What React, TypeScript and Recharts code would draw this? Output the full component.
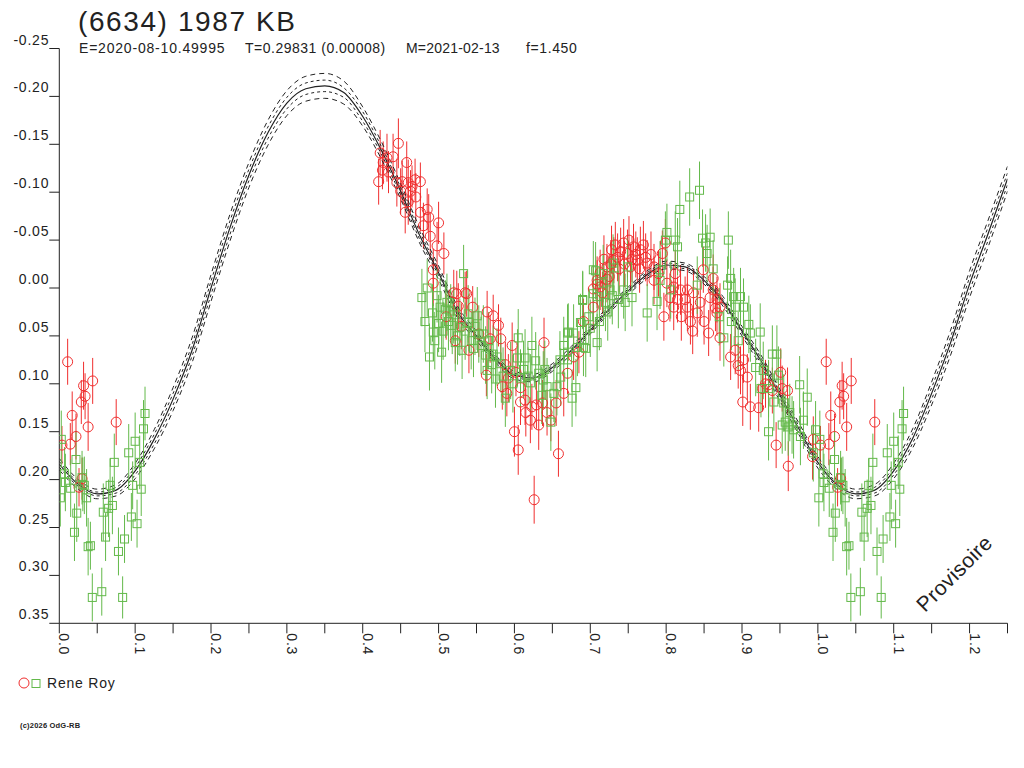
import React from 'react';
import { ComposedChart, Line, Scatter, XAxis, YAxis, ErrorBar } from 'recharts';

const RED = '#f02e2e';
const GREEN = '#63b94a';
const INK = '#222222';
const FONT = '"Liberation Sans", Arial, sans-serif';

const xTicks = [
  0, 0.05, 0.1, 0.15, 0.2, 0.25, 0.3, 0.35, 0.4, 0.45, 0.5, 0.55, 0.6,
  0.65, 0.7, 0.75, 0.8, 0.85, 0.9, 0.95, 1.0, 1.05, 1.1, 1.15, 1.2, 1.25,
];
const yTicks = [-0.25, -0.2, -0.15, -0.1, -0.05, 0, 0.05, 0.1, 0.15, 0.2, 0.25, 0.3, 0.35];

// fitted light curve, every 0.025 in phase
const curvePhase = [
  0, 0.025, 0.05, 0.075, 0.1, 0.125, 0.15, 0.175, 0.2, 0.225, 0.25, 0.275, 0.3,
  0.325, 0.35, 0.375, 0.4, 0.425, 0.45, 0.475, 0.5, 0.525, 0.55, 0.575, 0.6,
  0.625, 0.65, 0.675, 0.7, 0.725, 0.75, 0.775, 0.8, 0.825, 0.85, 0.875, 0.9,
  0.925, 0.95, 0.975, 1.0, 1.025, 1.05, 1.075, 1.1, 1.125, 1.15, 1.175, 1.2,
  1.225, 1.25,
];
const curveMid = [
  0.184, 0.205, 0.215, 0.211, 0.191, 0.158, 0.116, 0.065, 0.0, -0.063, -0.118,
  -0.162, -0.193, -0.208, -0.211, -0.204, -0.179, -0.143, -0.101, -0.055,
  -0.016, 0.025, 0.05, 0.074, 0.091, 0.094, 0.083, 0.065, 0.044, 0.022, 0.003,
  -0.014, -0.024, -0.022, -0.008, 0.014, 0.045, 0.076, 0.112, 0.147, 0.182,
  0.205, 0.215, 0.211, 0.191, 0.157, 0.11, 0.057, -0.004, -0.058, -0.114,
];
// half-widths of the dashed envelopes around the fit
const bandOuter = [
  0.006, 0.005, 0.005, 0.006, 0.008, 0.01, 0.012, 0.013, 0.014, 0.014, 0.013,
  0.013, 0.013, 0.013, 0.013, 0.012, 0.01, 0.009, 0.008, 0.008, 0.007, 0.006,
  0.005, 0.004, 0.004, 0.004, 0.004, 0.004, 0.004, 0.004, 0.004, 0.004, 0.004,
  0.004, 0.004, 0.005, 0.005, 0.006, 0.006, 0.006, 0.006, 0.005, 0.005, 0.006,
  0.008, 0.01, 0.012, 0.013, 0.014, 0.014, 0.013,
];
const bandInner = [
  0.003, 0.002, 0.002, 0.003, 0.004, 0.005, 0.006, 0.006, 0.007, 0.007, 0.006,
  0.006, 0.006, 0.006, 0.006, 0.005, 0.005, 0.004, 0.004, 0.004, 0.003, 0.003,
  0.002, 0.002, 0.002, 0.002, 0.002, 0.002, 0.002, 0.002, 0.002, 0.002, 0.002,
  0.002, 0.002, 0.002, 0.002, 0.003, 0.003, 0.003, 0.003, 0.002, 0.002, 0.003,
  0.004, 0.005, 0.006, 0.006, 0.007, 0.007, 0.006,
];

// [phase, magnitude, error]
type Obs = [number, number, number];

const redObs: Obs[] = [
  [0.011, 0.077, 0.024], [0.017, 0.133, 0.025], [0.032, 0.102, 0.025], [0.034, 0.113, 0.024],
  [0.029, 0.119, 0.023], [0.044, 0.097, 0.024], [0.038, 0.145, 0.025], [0.022, 0.155, 0.024],
  [0.0145, 0.163, 0.022], [0.0035, 0.164, 0.02], [0.075, 0.14, 0.024], [0.026, 0.208, 0.02],
  [0.03, 0.199, 0.022],
  [0.447, -0.151, 0.026], [0.423, -0.141, 0.024], [0.427, -0.131, 0.022], [0.432, -0.136, 0.025],
  [0.44, -0.137, 0.024], [0.458, -0.131, 0.022], [0.421, -0.111, 0.024], [0.426, -0.123, 0.02],
  [0.434, -0.121, 0.022], [0.445, -0.11, 0.025], [0.452, -0.111, 0.022], [0.46, -0.11, 0.024],
  [0.469, -0.113, 0.022], [0.476, -0.111, 0.02], [0.465, -0.106, 0.022], [0.45, -0.101, 0.024],
  [0.463, -0.101, 0.022], [0.456, -0.079, 0.022], [0.476, -0.079, 0.02], [0.485, -0.082, 0.022],
  [0.487, -0.074, 0.024], [0.5, -0.068, 0.022], [0.489, -0.054, 0.024], [0.498, -0.044, 0.025],
  [0.507, -0.036, 0.022], [0.493, -0.005, 0.024], [0.52, 0.005, 0.024], [0.535, 0.005, 0.022],
  [0.526, 0.019, 0.024], [0.564, 0.025, 0.022], [0.46, -0.09, 0.024], [0.47, -0.095, 0.025],
  [0.48, -0.065, 0.024],
  [0.493, -0.019, 0.022], [0.524, 0.006, 0.024], [0.537, 0.006, 0.024], [0.572, 0.029, 0.022],
  [0.579, 0.039, 0.022], [0.522, 0.055, 0.024], [0.568, 0.053, 0.025], [0.582, 0.053, 0.022],
  [0.597, 0.06, 0.024], [0.639, 0.057, 0.026], [0.563, 0.091, 0.022], [0.584, 0.103, 0.024],
  [0.592, 0.094, 0.025], [0.608, 0.104, 0.022], [0.608, 0.119, 0.024], [0.614, 0.117, 0.026],
  [0.623, 0.124, 0.024], [0.629, 0.122, 0.025], [0.621, 0.138, 0.024], [0.632, 0.143, 0.026],
  [0.643, 0.13, 0.024], [0.648, 0.138, 0.022], [0.6, 0.15, 0.026], [0.605, 0.169, 0.026],
  [0.626, 0.221, 0.025], [0.658, 0.173, 0.024], [0.665, 0.11, 0.024], [0.67, 0.089, 0.022],
  [0.678, 0.072, 0.024], [0.685, 0.067, 0.022], [0.704, 0.001, 0.024], [0.709, -0.004, 0.025],
  [0.716, 0.005, 0.022], [0.722, -0.009, 0.024], [0.727, -0.025, 0.025], [0.53, 0.04, 0.024],
  [0.553, 0.048, 0.024], [0.545, 0.02, 0.022], [0.588, 0.08, 0.024], [0.602, 0.088, 0.025],
  [0.59, 0.11, 0.024], [0.615, 0.13, 0.025], [0.637, 0.12, 0.024], [0.655, 0.12, 0.024],
  [0.51, 0.03, 0.024], [0.54, 0.065, 0.024],
  [0.744, -0.047, 0.025], [0.757, -0.043, 0.024], [0.766, -0.04, 0.024], [0.749, -0.036, 0.025],
  [0.736, -0.032, 0.025], [0.731, -0.029, 0.024], [0.762, -0.029, 0.024], [0.773, -0.032, 0.025],
  [0.775, -0.026, 0.024], [0.784, -0.022, 0.024], [0.722, -0.022, 0.024], [0.713, -0.016, 0.024],
  [0.753, -0.022, 0.024], [0.799, -0.047, 0.025], [0.795, -0.036, 0.024], [0.784, -0.008, 0.025],
  [0.801, -0.005, 0.025], [0.81, -0.001, 0.024], [0.819, 0.002, 0.026], [0.828, 0.002, 0.024],
  [0.836, 0.005, 0.025], [0.815, 0.012, 0.024], [0.828, 0.02, 0.025], [0.81, 0.02, 0.024],
  [0.841, 0.026, 0.025], [0.849, -0.019, 0.024], [0.862, -0.01, 0.025], [0.862, 0.002, 0.024],
  [0.867, 0.012, 0.024], [0.871, 0.02, 0.025], [0.867, 0.026, 0.024], [0.797, 0.03, 0.025],
  [0.835, 0.045, 0.024], [0.856, 0.047, 0.024], [0.871, 0.052, 0.024], [0.691, 0.035, 0.024],
  [0.704, 0.02, 0.024], [0.709, -0.008, 0.025], [0.713, -0.001, 0.024], [0.74, -0.038, 0.025],
  [0.76, -0.035, 0.024], [0.77, -0.045, 0.025], [0.745, -0.025, 0.024], [0.79, -0.015, 0.024],
  [0.805, 0.01, 0.025], [0.825, 0.012, 0.024], [0.845, 0.015, 0.024], [0.728, -0.04, 0.025],
  [0.733, -0.045, 0.024], [0.738, -0.02, 0.024], [0.751, -0.05, 0.025], [0.755, -0.03, 0.024],
  [0.765, -0.02, 0.025], [0.78, -0.035, 0.024], [0.718, -0.03, 0.025], [0.725, -0.012, 0.024],
  [0.82, 0.03, 0.025], [0.832, 0.035, 0.024], [0.85, 0.035, 0.024], [0.858, 0.01, 0.024],
  [0.812, -0.015, 0.025],
  [0.865, 0.021, 0.024], [0.885, 0.072, 0.024], [0.891, 0.065, 0.025], [0.895, 0.081, 0.024],
  [0.898, 0.086, 0.025], [0.907, 0.093, 0.024], [0.902, 0.075, 0.024], [0.901, 0.119, 0.025],
  [0.911, 0.124, 0.024], [0.922, 0.125, 0.025], [0.927, 0.105, 0.024], [0.931, 0.1, 0.025],
  [0.935, 0.101, 0.024], [0.94, 0.107, 0.024], [0.951, 0.088, 0.025], [0.953, 0.105, 0.024],
  [0.96, 0.107, 0.024], [0.945, 0.164, 0.024], [0.961, 0.186, 0.026], [0.994, 0.158, 0.024],
  [0.993, 0.176, 0.024],
];

const greenObs: Obs[] = [
  [0.0026, 0.158, 0.03], [0.0013, 0.219, 0.03], [0.007, 0.194, 0.028], [0.008, 0.203, 0.03],
  [0.015, 0.209, 0.03], [0.022, 0.179, 0.03], [0.023, 0.235, 0.03], [0.02, 0.255, 0.03],
  [0.03, 0.198, 0.028], [0.031, 0.205, 0.028], [0.033, 0.206, 0.03], [0.036, 0.219, 0.03],
  [0.038, 0.27, 0.03], [0.041, 0.269, 0.025], [0.0435, 0.323, 0.025], [0.056, 0.317, 0.025],
  [0.058, 0.234, 0.03], [0.061, 0.26, 0.025], [0.065, 0.23, 0.03], [0.067, 0.206, 0.028],
  [0.07, 0.227, 0.03], [0.0725, 0.182, 0.03], [0.078, 0.275, 0.025], [0.0835, 0.323, 0.022],
  [0.086, 0.262, 0.025], [0.0915, 0.172, 0.03], [0.095, 0.239, 0.025], [0.0967, 0.206, 0.025],
  [0.1, 0.16, 0.03], [0.1025, 0.246, 0.025], [0.106, 0.182, 0.028], [0.108, 0.21, 0.028],
  [0.111, 0.147, 0.03], [0.113, 0.131, 0.028],
  [0.533, -0.015, 0.03], [0.485, 0.0, 0.03], [0.498, 0.008, 0.028], [0.492, 0.026, 0.03],
  [0.511, 0.015, 0.03], [0.516, 0.024, 0.028], [0.539, 0.027, 0.03], [0.551, 0.029, 0.03],
  [0.488, 0.072, 0.035], [0.504, 0.067, 0.032], [0.493, 0.046, 0.03], [0.5, 0.037, 0.03],
  [0.509, 0.022, 0.03], [0.522, 0.057, 0.03], [0.518, 0.039, 0.03], [0.528, 0.041, 0.03],
  [0.54, 0.036, 0.03], [0.546, 0.063, 0.03], [0.553, 0.048, 0.03], [0.559, 0.048, 0.03],
  [0.566, 0.055, 0.03], [0.572, 0.069, 0.03], [0.577, 0.072, 0.03], [0.582, 0.079, 0.03],
  [0.564, 0.086, 0.03], [0.588, 0.115, 0.03], [0.595, 0.086, 0.03], [0.604, 0.073, 0.03],
  [0.605, 0.052, 0.03], [0.608, 0.094, 0.03], [0.614, 0.073, 0.03], [0.621, 0.099, 0.03],
  [0.623, 0.06, 0.03], [0.628, 0.076, 0.03], [0.632, 0.089, 0.03], [0.636, 0.112, 0.03],
  [0.638, 0.096, 0.03], [0.643, 0.103, 0.03], [0.648, 0.14, 0.03], [0.652, 0.11, 0.03],
  [0.656, 0.103, 0.03], [0.661, 0.093, 0.03], [0.67, 0.075, 0.03], [0.671, 0.046, 0.03],
  [0.676, 0.115, 0.03], [0.681, 0.104, 0.03], [0.683, 0.062, 0.03], [0.687, 0.036, 0.03],
  [0.691, 0.062, 0.03], [0.694, 0.063, 0.03], [0.69, 0.013, 0.03], [0.7, 0.042, 0.03],
  [0.709, 0.057, 0.03], [0.704, 0.006, 0.03], [0.707, -0.018, 0.03], [0.717, -0.015, 0.03],
  [0.72, 0.015, 0.03], [0.729, 0.008, 0.03], [0.731, -0.021, 0.03],
  [0.478, 0.01, 0.03], [0.482, 0.035, 0.032], [0.495, 0.055, 0.03], [0.502, 0.02, 0.03],
  [0.506, 0.045, 0.03], [0.513, 0.035, 0.03], [0.52, 0.028, 0.03], [0.525, 0.05, 0.03],
  [0.531, 0.065, 0.03], [0.535, 0.045, 0.03], [0.543, 0.055, 0.03], [0.548, 0.04, 0.03],
  [0.556, 0.06, 0.03], [0.562, 0.07, 0.03], [0.57, 0.08, 0.03], [0.575, 0.095, 0.03],
  [0.585, 0.092, 0.03], [0.598, 0.1, 0.03], [0.612, 0.085, 0.03], [0.618, 0.092, 0.03],
  [0.64, 0.085, 0.03], [0.66, 0.075, 0.03], [0.665, 0.06, 0.03], [0.698, 0.03, 0.03],
  [0.712, 0.035, 0.03], [0.723, 0.025, 0.03], [0.755, 0.01, 0.03],
  [0.831, -0.095, 0.03], [0.844, -0.102, 0.03], [0.818, -0.082, 0.03], [0.801, -0.058, 0.03],
  [0.799, -0.05, 0.03], [0.812, -0.05, 0.03], [0.815, -0.043, 0.03], [0.848, -0.052, 0.03],
  [0.858, -0.053, 0.03], [0.852, -0.047, 0.03], [0.882, -0.05, 0.03], [0.854, -0.036, 0.03],
  [0.792, -0.019, 0.03], [0.792, -0.008, 0.03], [0.749, -0.022, 0.03], [0.73, -0.026, 0.03],
  [0.704, -0.019, 0.03], [0.717, -0.005, 0.03], [0.726, 0.002, 0.03], [0.744, 0.002, 0.03],
  [0.746, 0.015, 0.03], [0.737, 0.012, 0.03], [0.69, 0.012, 0.03], [0.709, 0.009, 0.03],
  [0.775, 0.026, 0.03], [0.788, 0.014, 0.03], [0.806, 0.002, 0.03], [0.841, -0.003, 0.03],
  [0.885, -0.01, 0.03], [0.881, -0.003, 0.03], [0.889, 0.009, 0.03], [0.898, 0.009, 0.03],
  [0.891, 0.02, 0.03], [0.902, 0.02, 0.03], [0.909, 0.038, 0.03], [0.911, 0.047, 0.03],
  [0.67, 0.047, 0.03], [0.678, 0.047, 0.03], [0.67, 0.067, 0.03], [0.876, 0.052, 0.03],
  [0.886, 0.035, 0.03], [0.895, 0.055, 0.03], [0.862, -0.02, 0.03], [0.87, 0.03, 0.03],
  [0.924, 0.046, 0.03], [0.918, 0.083, 0.03], [0.928, 0.086, 0.03], [0.94, 0.069, 0.03],
  [0.946, 0.069, 0.03], [0.935, 0.105, 0.03], [0.942, 0.119, 0.03], [0.935, 0.15, 0.03],
  [0.948, 0.091, 0.03], [0.953, 0.143, 0.03], [0.957, 0.14, 0.03], [0.961, 0.145, 0.03],
  [0.966, 0.143, 0.03], [0.968, 0.148, 0.03], [0.976, 0.101, 0.03], [0.986, 0.114, 0.03],
  [0.981, 0.138, 0.03], [0.977, 0.155, 0.03], [0.997, 0.148, 0.03], [0.994, 0.172, 0.03],
  [0.925, 0.105, 0.03], [0.955, 0.12, 0.03], [0.963, 0.13, 0.03],
];

// phase-folded: the start of the cycle is drawn again one period later
function toRows(obs: Obs[]) {
  const rows = obs.map(([x, y, err]) => ({ x, y, err }));
  const again = rows.filter((r) => r.x < 0.12).map((r) => ({ ...r, x: r.x + 1 }));
  return rows.concat(again);
}

const redRows = toRows(redObs);
const greenRows = toRows(greenObs);

const curveRows = (band: number[] | null, sign: number) =>
  curvePhase.map((x, i) => ({ x, y: curveMid[i] + (band ? sign * band[i] : 0) }));

const textStyle = { fontFamily: FONT, fill: INK };

function XTick(props: any) {
  const { x, y, payload } = props;
  const v = payload.value as number;
  if (Math.round(v * 100) % 10 !== 0) return <g />;
  return (
    <text
      transform={`translate(${x},${y}) rotate(90)`}
      fontSize={14}
      letterSpacing={0.8}
      {...textStyle}
    >
      {v.toFixed(1)}
    </text>
  );
}

function YTick(props: any) {
  const { x, y, payload } = props;
  return (
    <text x={x} y={y - 4} textAnchor="end" fontSize={14} letterSpacing={0.8} {...textStyle}>
      {(payload.value as number).toFixed(2)}
    </text>
  );
}

const circle = (p: any) => (
  <circle cx={p.cx} cy={p.cy} r={5} fill="none" stroke={RED} strokeWidth={1} />
);
const square = (p: any) => (
  <rect x={p.cx - 4} y={p.cy - 4} width={8} height={8} fill="none" stroke={GREEN} strokeWidth={1} />
);

export default function App() {
  return (
    <div style={{ position: 'absolute', left: 0, top: 0, width: 1024, height: 768, background: '#fff' }}>
      <ComposedChart
        width={1024}
        height={768}
        margin={{ top: 48.5, right: 16.5, bottom: 134.7, left: 9.3 }}
      >
        <XAxis
          type="number"
          dataKey="x"
          domain={[0, 1.25]}
          ticks={xTicks}
          interval={0}
          allowDataOverflow
          height={10}
          tickSize={10}
          tickMargin={0}
          tick={XTick}
          axisLine={{ stroke: INK }}
          tickLine={{ stroke: INK }}
        />
        <YAxis
          type="number"
          dataKey="y"
          domain={[-0.25, 0.35]}
          reversed
          ticks={yTicks}
          interval={0}
          allowDataOverflow
          width={50}
          tickSize={10}
          tickMargin={0}
          tick={YTick}
          axisLine={{ stroke: INK }}
          tickLine={{ stroke: INK }}
        />
        <Scatter data={redRows} dataKey="y" shape={circle} isAnimationActive={false}>
          <ErrorBar dataKey="err" direction="y" width={0} stroke={RED} strokeWidth={1} />
        </Scatter>
        <Line data={curveRows(bandOuter, -1)} dataKey="y" type="monotone" stroke={INK} strokeWidth={1} strokeDasharray="5 4" dot={false} isAnimationActive={false} />
        <Line data={curveRows(bandInner, -1)} dataKey="y" type="monotone" stroke={INK} strokeWidth={1} strokeDasharray="3 3" dot={false} isAnimationActive={false} />
        <Line data={curveRows(null, 0)} dataKey="y" type="monotone" stroke={INK} strokeWidth={1.2} dot={false} isAnimationActive={false} />
        <Line data={curveRows(bandInner, 1)} dataKey="y" type="monotone" stroke={INK} strokeWidth={1} strokeDasharray="3 3" dot={false} isAnimationActive={false} />
        <Line data={curveRows(bandOuter, 1)} dataKey="y" type="monotone" stroke={INK} strokeWidth={1} strokeDasharray="5 4" dot={false} isAnimationActive={false} />
        <Scatter data={greenRows} dataKey="y" shape={square} isAnimationActive={false}>
          <ErrorBar dataKey="err" direction="y" width={0} stroke={GREEN} strokeWidth={1} />
        </Scatter>
      </ComposedChart>

      <svg width={1024} height={768} style={{ position: 'absolute', left: 0, top: 0, pointerEvents: 'none' }}>
        <text x={78} y={31} fontSize={28} letterSpacing={1.6} {...textStyle}>(6634) 1987 KB</text>
        <text x={79} y={53} fontSize={14} letterSpacing={0.8} {...textStyle}>E=2020-08-10.49995</text>
        <text x={245} y={53} fontSize={14} letterSpacing={0.5} {...textStyle}>T=0.29831 (0.00008)</text>
        <text x={406} y={53} fontSize={14} letterSpacing={0.2} {...textStyle}>M=2021-02-13</text>
        <text x={526} y={53} fontSize={14} letterSpacing={0.6} {...textStyle}>f=1.450</text>
        <text transform="translate(925,613) rotate(-45)" fontSize={21} letterSpacing={0.4} {...textStyle}>Provisoire</text>
        <circle cx={24} cy={683} r={5} fill="none" stroke={RED} strokeWidth={1} />
        <rect x={32} y={679.5} width={8} height={8} fill="none" stroke={GREEN} strokeWidth={1} />
        <text x={47} y={688} fontSize={14} letterSpacing={0.8} {...textStyle}>Rene Roy</text>
        <text x={20} y={728} fontSize={7.5} fontWeight="bold" letterSpacing={0.2} {...textStyle}>(c)2026 OdG-RB</text>
      </svg>
    </div>
  );
}
